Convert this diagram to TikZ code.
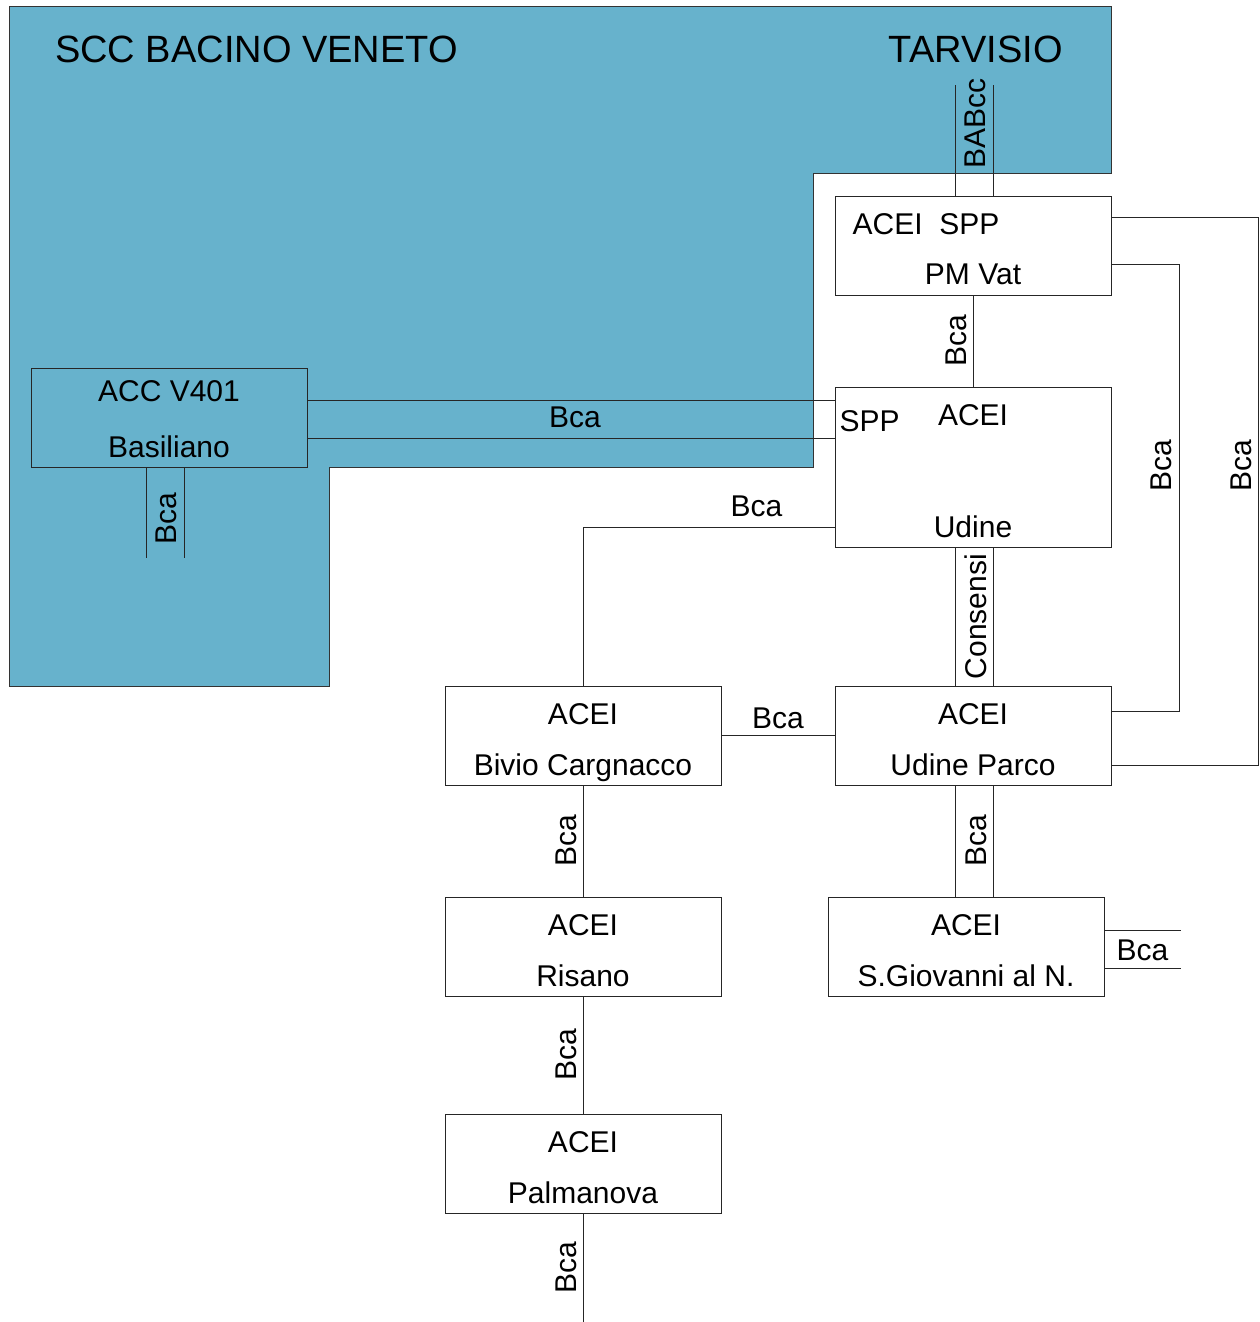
\documentclass[tikz,border=0pt]{standalone}
\usepackage{fontspec}
\setmainfont{Liberation Sans}
\usetikzlibrary{positioning}
\definecolor{bacino}{RGB}{103,178,204}

\begin{document}
\begin{tikzpicture}[x=1pt, y=-1pt,
        box/.style={draw=black!85, fill=white, line width=1pt, minimum width=276pt, minimum height=99pt, inner sep=0pt},
        txt/.style={font=\fontsize{30}{36}\selectfont, inner sep=0pt, anchor=base},
        title/.style={font=\fontsize{38}{46}\selectfont, inner sep=0pt},
        lbl/.style={font=\fontsize{30}{36}\selectfont, inner sep=0pt},
        lblv/.style={lbl, rotate=90},
        link/.style={draw=black!85, line width=1pt}
    ]
    \useasboundingbox (0,0) rectangle (1259,1322);

    % 1. Area SCC Bacino Veneto
    \path[fill=bacino, draw=black!80, line width=1pt] (9,7) -- (1111,7) -- (1111,173) -- (813,173) -- (813,467) -- (329,467) -- (329,686) -- (9,686) -- cycle;
    \node[title, anchor=base west] (scc) at (55,63) {SCC BACINO VENETO};
    \node[title, anchor=base east] (tarv) at (1063,63) {TARVISIO};

    % 2. Apparati
    \node[box] (pmvat) at (973,245.5) {};
    \node[box, minimum height=160pt] (udine) at (973,467) {};
    \node[box, fill=bacino] (basil) at (169,417.5) {};
    \node[box] (parco) at (973,735.5) {};
    \node[box, left=113pt of parco] (bivio) {};
    \node[box, below=111pt of bivio] (risano) {};
    \node[box, below=117pt of risano] (palma) {};
    \node[box, below=111pt of parco, xshift=-7pt] (sgio) {};

    % 3. Testi nei riquadri
    \node[txt, anchor=base west] (pmvat-a) at ([xshift=18pt,yshift=-39pt]pmvat.north west) {ACEI\ \ SPP};
    \node[txt] (pmvat-b) at ([yshift=11pt]pmvat.south) {PM Vat};
    \node[txt, anchor=base west] (udine-c) at ([xshift=5pt,yshift=-45pt]udine.north west) {SPP};
    \node[txt] (udine-a) at ([yshift=-39pt]udine.north) {ACEI};
    \node[txt] (udine-b) at ([yshift=10pt]udine.south) {Udine};
    \node[txt] (basil-a) at ([yshift=-34pt]basil.north) {ACC V401};
    \node[txt] (basil-b) at ([yshift=10pt]basil.south) {Basiliano};
    \foreach \n/\t in {bivio/Bivio Cargnacco, parco/Udine Parco, risano/Risano, sgio/S.Giovanni al N., palma/Palmanova}{
        \node[txt] (\n-a) at ([yshift=-39pt]\n.north) {ACEI};
        \node[txt] (\n-b) at ([yshift=10pt]\n.south) {\t};
    }

    % 4. Collegamenti
    % (etichette ruotate: yshift positivo = verso sinistra)
    \coordinate (babcc) at ([yshift=111pt]pmvat.north);
    \draw[link] ([xshift=-18pt]pmvat.north) -- ([xshift=-18pt]babcc);
    \draw[link] ([xshift=20pt]pmvat.north) -- ([xshift=20pt]babcc);
    \path (pmvat.north) -- (babcc) node[lblv, pos=0.65, yshift=-2pt] (babcc-l) {BABcc};

    \draw[link] (pmvat.south) -- (udine.north) node[lblv, midway, anchor=south, yshift=6pt] (l1) {Bca};

    \draw[link] ([yshift=17.5pt]basil.east) -- ([yshift=17.5pt]basil.east -| udine.west);
    \draw[link] ([yshift=-20.5pt]basil.east) -- ([yshift=-20.5pt]basil.east -| udine.west);
    \path (basil.east) -- (basil.east -| udine.west) node[lbl, midway, xshift=4pt] (l2) {Bca};

    \coordinate (basilS) at ([yshift=-90pt]basil.south);
    \draw[link] ([xshift=-23pt]basil.south) -- ([xshift=-23pt]basilS);
    \draw[link] ([xshift=15pt]basil.south) -- ([xshift=15pt]basilS);
    \path (basil.south) -- (basilS) node[lblv, pos=0.57, yshift=3pt] (l3) {Bca};

    \draw[link] ([yshift=-60pt]udine.west) -| (bivio.north) node[lbl, pos=0.155, above=10pt] (l4) {Bca};

    \draw[link] ([xshift=-18pt]udine.south) -- ([xshift=-18pt]udine.south |- parco.north);
    \draw[link] ([xshift=20pt]udine.south) -- ([xshift=20pt]udine.south |- parco.north);
    \path (udine.south) -- (parco.north) node[lblv, midway, yshift=-3pt] (l5) {Consensi};

    \draw[link] (bivio.east) -- (parco.west) node[lbl, midway, above=6pt] (l6) {Bca};

    \draw[link] ([yshift=-18.5pt]pmvat.east) -| ([xshift=68pt,yshift=24.5pt]parco.east)
        node[lblv, pos=0.726, anchor=south, yshift=7pt] (l7) {Bca} -- ([yshift=24.5pt]parco.east);
    \draw[link] ([yshift=28.5pt]pmvat.east) -| ([xshift=147pt,yshift=-29.5pt]parco.east)
        node[lblv, pos=0.727, anchor=south, yshift=6pt] (l8) {Bca} -- ([yshift=-29.5pt]parco.east);

    \draw[link] ([xshift=-18pt]parco.south) -- ([xshift=-18pt]parco.south |- sgio.north);
    \draw[link] ([xshift=20pt]parco.south) -- ([xshift=20pt]parco.south |- sgio.north);
    \path (parco.south) -- (parco.south |- sgio.north) node[lblv, midway, yshift=-3pt] (l9) {Bca};

    \coordinate (sgioE) at ([xshift=76pt]sgio.east);
    \draw[link] ([yshift=16.5pt]sgio.east) -- ([yshift=16.5pt]sgioE);
    \draw[link] ([yshift=-21.5pt]sgio.east) -- ([yshift=-21.5pt]sgioE);
    \path (sgio.east) -- (sgioE) node[lbl, midway, yshift=-4pt] (l10) {Bca};

    \draw[link] (bivio.south) -- (risano.north) node[lblv, midway, anchor=south, yshift=6pt] (l11) {Bca};
    \draw[link] (risano.south) -- (palma.north) node[lblv, midway, anchor=south, yshift=6pt] (l12) {Bca};
    \coordinate (palmaS) at ([yshift=-108pt]palma.south);
    \draw[link] (palma.south) -- (palmaS) node[lblv, midway, anchor=south, yshift=6pt] (l13) {Bca};
\end{tikzpicture}
\end{document}
